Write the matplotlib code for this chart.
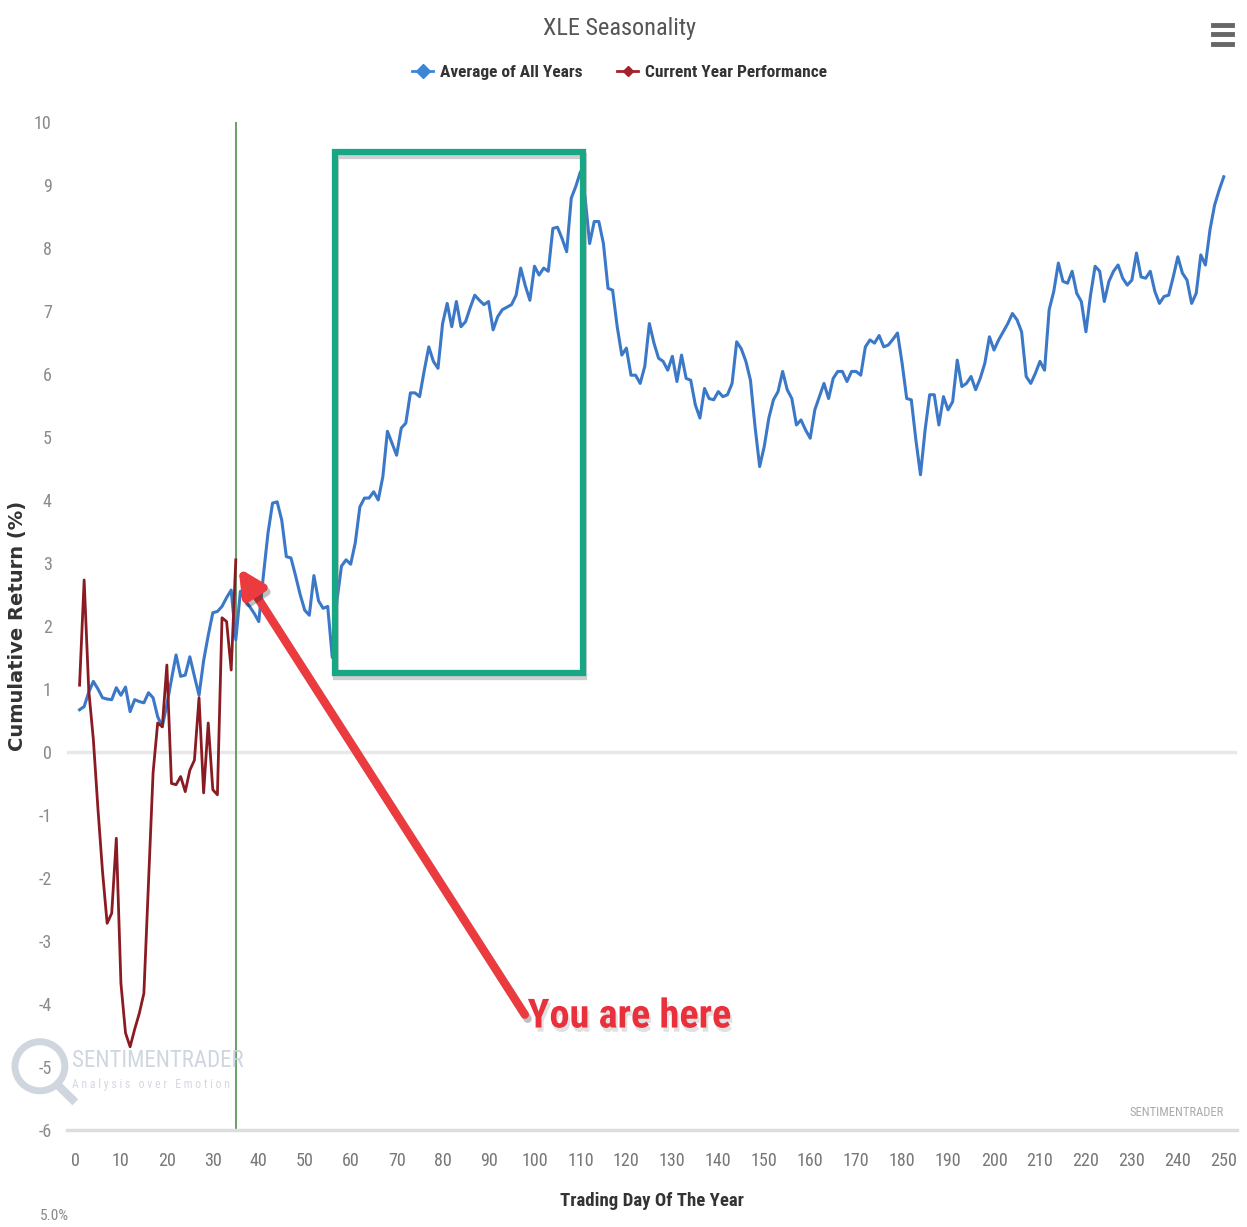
import os
import matplotlib
matplotlib.use("Agg")
import matplotlib.pyplot as plt
import matplotlib.patheffects as pe
from matplotlib import font_manager as fm
from matplotlib.lines import Line2D
from matplotlib.patches import Rectangle, Circle
import numpy as np

plt.rcParams['axes.unicode_minus'] = False

# average of all years, trading days 1..250
avg_all_years = [
    0.67, 0.72, 0.95, 1.12, 1.00, 0.86, 0.84, 0.83, 1.02, 0.90,
    1.03, 0.64, 0.83, 0.80, 0.78, 0.94, 0.86, 0.56, 0.40, 0.75,
    1.15, 1.54, 1.20, 1.22, 1.51, 1.20, 0.90, 1.45, 1.85, 2.21,
    2.23, 2.31, 2.45, 2.57, 1.78, 2.55, 2.40, 2.31, 2.20, 2.07,
    2.80, 3.47, 3.95, 3.97, 3.68, 3.10, 3.08, 2.80, 2.50, 2.25,
    2.17, 2.80, 2.40, 2.28, 2.31, 1.50, 2.40, 2.95, 3.05, 2.98,
    3.32, 3.89, 4.03, 4.03, 4.13, 4.00, 4.37, 5.09, 4.90, 4.71,
    5.14, 5.22, 5.70, 5.70, 5.64, 6.05, 6.43, 6.20, 6.09, 6.80,
    7.12, 6.75, 7.15, 6.75, 6.83, 7.05, 7.25, 7.17, 7.10, 7.15,
    6.70, 6.91, 7.02, 7.06, 7.10, 7.25, 7.68, 7.40, 7.17, 7.71,
    7.57, 7.68, 7.63, 8.31, 8.33, 8.15, 7.94, 8.79, 8.98, 9.21,
    8.81, 8.07, 8.42, 8.42, 8.07, 7.36, 7.33, 6.75, 6.30, 6.41,
    5.98, 5.98, 5.85, 6.12, 6.80, 6.49, 6.25, 6.20, 6.06, 6.28,
    5.88, 6.30, 5.93, 5.90, 5.51, 5.30, 5.77, 5.61, 5.59, 5.72,
    5.64, 5.67, 5.85, 6.51, 6.40, 6.20, 5.90, 5.16, 4.53, 4.85,
    5.30, 5.59, 5.72, 6.04, 5.75, 5.61, 5.19, 5.27, 5.11, 4.98,
    5.43, 5.64, 5.85, 5.61, 5.93, 6.04, 6.04, 5.88, 6.04, 6.04,
    5.98, 6.43, 6.54, 6.49, 6.61, 6.43, 6.46, 6.55, 6.65, 6.17,
    5.61, 5.59, 4.95, 4.40, 5.11, 5.67, 5.67, 5.19, 5.64, 5.43,
    5.56, 6.22, 5.80, 5.85, 5.96, 5.75, 5.93, 6.17, 6.59, 6.38,
    6.54, 6.67, 6.80, 6.96, 6.86, 6.67, 5.96, 5.85, 6.01, 6.20,
    6.06, 7.02, 7.31, 7.76, 7.47, 7.44, 7.63, 7.28, 7.15, 6.67,
    7.25, 7.71, 7.63, 7.15, 7.47, 7.63, 7.73, 7.52, 7.41, 7.49,
    7.92, 7.54, 7.52, 7.63, 7.31, 7.12, 7.23, 7.25, 7.54, 7.86,
    7.60, 7.49, 7.12, 7.28, 7.89, 7.73, 8.29, 8.68, 8.92, 9.13,
]

# current year, trading days 1..35
current_year = [
    1.06, 2.73, 0.98, 0.20, -0.90, -1.90, -2.72, -2.56, -1.37, -3.67,
    -4.46, -4.68, -4.40, -4.15, -3.83, -2.08, -0.33, 0.46, 0.40, 1.38,
    -0.50, -0.52, -0.39, -0.63, -0.29, -0.13, 0.86, -0.65, 0.46, -0.60,
    -0.68, 2.13, 2.07, 1.30, 3.05,
]

x_ticks = list(range(0, 251, 10))
y_ticks = list(range(-6, 11))
today = 35

# annotation geometry (data units)
box_x0, box_x1 = 56.6, 110.5
box_y0, box_y1 = 1.25, 9.52
arrow_tail = (97.9, -4.17)
arrow_tip = (35.6, 2.92)

blue = '#3b78c8'
red = '#8a1b22'


# the reference uses a narrow face; look for one on disk
def narrow_font(bold):
    files = fm.findSystemFonts() + [f.fname for f in fm.fontManager.ttflist]
    if bold:
        keys = ['liberationsansnarrow-bold.', 'robotocondensed-bold.',
                'notosans-condensedbold.', 'dejavusanscondensed-bold.',
                'opensans-condensedbold.']
    else:
        keys = ['liberationsansnarrow-regular.', 'robotocondensed-regular.',
                'notosans-condensed.', 'dejavusanscondensed.',
                'opensans-condensed.', 'opensanscondensed-light.']
    for k in keys:
        for f in files:
            if os.path.basename(f).lower().startswith(k):
                return fm.FontProperties(fname=f)
    return fm.FontProperties(family='Roboto', weight='bold' if bold else 'normal')


NARROW = narrow_font(False)
NARROW_B = narrow_font(True)


def fp(base, size):
    p = base.copy()
    p.set_size(size)
    return p


days_avg = np.arange(1, len(avg_all_years) + 1)
days_cur = np.arange(1, len(current_year) + 1)

fig = plt.figure(figsize=(12.47, 12.27), dpi=100)
ax = fig.add_axes([0.0537, 0.0791, 0.938, 0.8215])

ax.set_xlim(-1.74, 252.8)
ax.set_ylim(-6, 10)

ax.axhline(0, color='#e8e8e8', lw=2.5, zorder=1)
ax.axvline(today, color='#4f8f4f', lw=1.2, zorder=2)

ax.plot(days_avg, avg_all_years, color=blue, lw=2.2, zorder=3)
ax.plot(days_cur, current_year, color=red, lw=2.0, zorder=4)

for s in ['top', 'right', 'left']:
    ax.spines[s].set_visible(False)
ax.spines['bottom'].set_color('#dddddd')
ax.spines['bottom'].set_linewidth(2.5)

ax.set_xticks(x_ticks)
ax.set_yticks(y_ticks)
ax.tick_params(axis='both', length=0)
ax.tick_params(axis='y', pad=11, colors='#8a8a8a')
ax.tick_params(axis='x', pad=16, colors='#777777')
for lab in ax.get_xticklabels() + ax.get_yticklabels():
    lab.set_fontproperties(fp(NARROW, 13))

ax.set_xlabel('Trading Day Of The Year', fontproperties=fp(NARROW_B, 13.5),
              color='#333333', labelpad=16)
ax.set_ylabel('Cumulative Return (%)', fontsize=14, fontweight='bold',
              color='#333333', va='center')
ax.yaxis.set_label_coords(-0.042, 0.5)

# green highlight box
box = Rectangle((box_x0, box_y0), box_x1 - box_x0, box_y1 - box_y0,
                fill=False, edgecolor='#17a784', lw=4.5, zorder=6,
                path_effects=[pe.SimpleLineShadow(offset=(1, -3), shadow_color='#888888', alpha=0.4),
                              pe.Normal()])
ax.add_patch(box)

# red arrow
ax.annotate('', xy=arrow_tip, xytext=arrow_tail,
            arrowprops=dict(arrowstyle='-|>,head_length=1.5,head_width=0.75',
                            color='#ec3b3f', lw=6, shrinkA=0, shrinkB=0,
                            path_effects=[pe.SimpleLineShadow(offset=(2, -3), alpha=0.25),
                                          pe.Normal()]),
            zorder=7)
ax.text(98.5, -4.2, 'You are here', fontproperties=fp(NARROW_B, 29),
        color='#e8313c', ha='left', va='center', zorder=8,
        path_effects=[pe.withSimplePatchShadow(offset=(1.5, -3), shadow_rgbFace='#aaaaaa', alpha=0.35)])

# title and legend
fig.text(0.497, 0.977, 'XLE Seasonality', fontproperties=fp(NARROW, 17.5),
         color='#555555', ha='center', va='center')
handles = [Line2D([], [], color='#3b86d8', marker='D', markersize=7, lw=2),
           Line2D([], [], color='#a3222b', marker='D', markersize=5, lw=2)]
fig.legend(handles, ['Average of All Years', 'Current Year Performance'],
           loc='center', bbox_to_anchor=(0.497, 0.941), ncol=2, frameon=False,
           handlelength=1.2, handletextpad=0.4, columnspacing=2.0,
           prop=fp(NARROW_B, 12.5), labelcolor='#333333')

# menu icon
for yy in [0.980, 0.972, 0.964]:
    fig.add_artist(Line2D([0.973, 0.988], [yy, yy], color='#666666', lw=3.5))

# watermarks
fig.text(0.058, 0.136, 'SENTIMENTRADER', fontproperties=fp(NARROW, 16.5),
         color='#c9d2de', ha='left', va='center', alpha=0.9)
fig.text(0.058, 0.116, 'A n a l y s i s   o v e r   E m o t i o n',
         fontproperties=fp(NARROW, 8.5), color='#d3d9e2', ha='left', va='center')
fig.add_artist(Circle((0.032, 0.131), 0.02, transform=fig.transFigure,
                      fill=False, ec='#d0d6de', lw=5))
fig.add_artist(Line2D([0.046, 0.058], [0.116, 0.104], color='#d0d6de', lw=6))
fig.text(0.981, 0.093, 'SENTIMENTRADER', fontproperties=fp(NARROW, 9),
         color='#aaaaaa', ha='right', va='center')
fig.text(0.044, 0.009, '5.0%', fontproperties=fp(NARROW, 11),
         color='#888888', ha='center', va='center')

fig.savefig('out.png', dpi=100, facecolor='white')
